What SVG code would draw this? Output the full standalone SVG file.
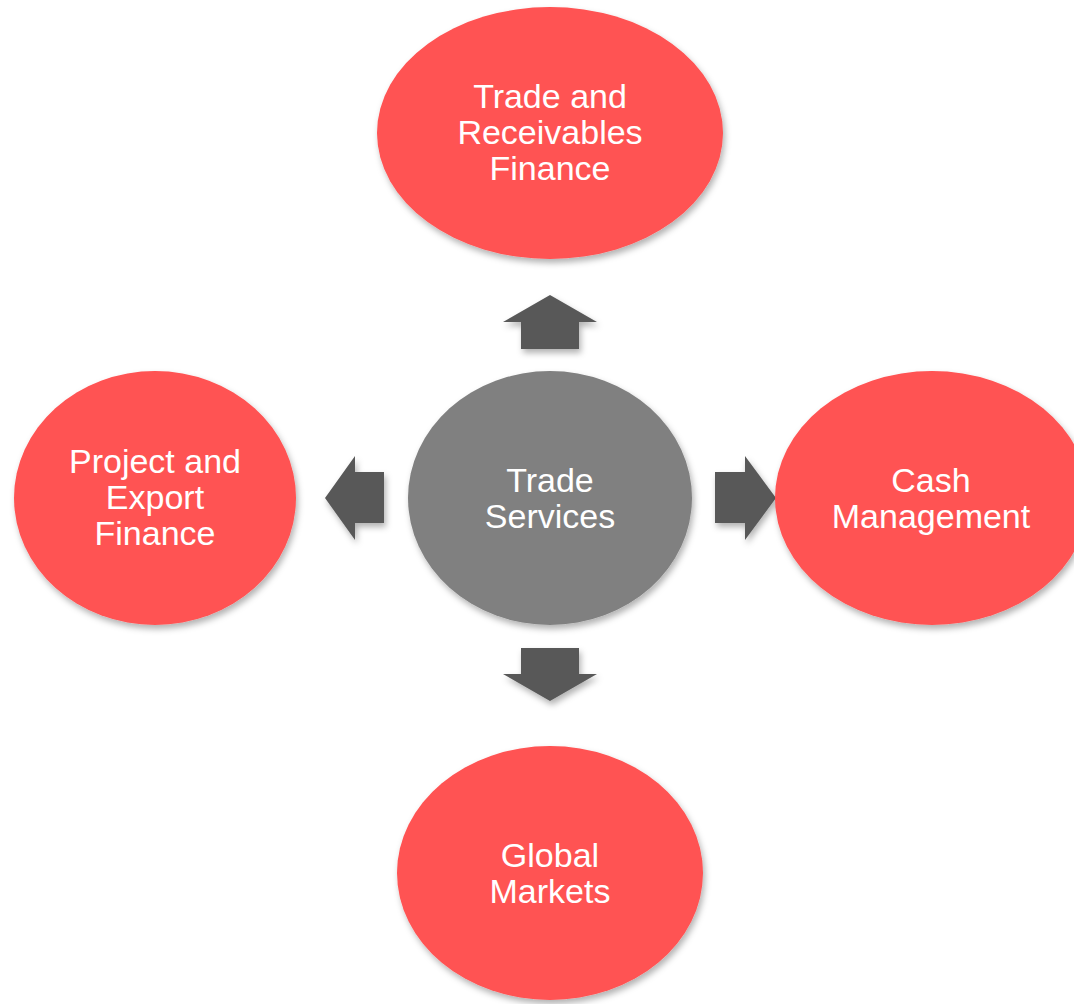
<svg xmlns="http://www.w3.org/2000/svg" width="1074" height="1004" viewBox="0 0 1074 1004">
<defs>
<filter id="sh" x="-20%" y="-20%" width="140%" height="140%">
<feDropShadow dx="2" dy="4" stdDeviation="3" flood-color="#000" flood-opacity="0.3"/>
</filter>
<style>
.red{fill:#FF5252;filter:url(#sh)}
.gray{fill:#808080;filter:url(#sh)}
.arr{fill:#595959;filter:url(#sh)}
.t{font-family:"Liberation Sans",Arial,sans-serif;font-size:34px;fill:#fff;text-anchor:middle}
</style>
</defs>
<rect width="1074" height="1004" fill="#fff"/>
<g id="connectors">
<polygon class="arr" points="550,295 597,322 579,322 579,349 521,349 521,322 503,322"/>
<polygon class="arr" points="550,701 597,674 579,674 579,648 521,648 521,674 503,674"/>
<polygon class="arr" points="325,498 355,456 355,472 384,472 384,523 355,523 355,540"/>
<polygon class="arr" points="776,498 745,456 745,472 715,472 715,523 745,523 745,540"/>
</g>
<g id="trade-receivables">
<ellipse class="red" cx="550" cy="133" rx="173" ry="126"/>
<text class="t" x="550" y="108">Trade and</text>
<text class="t" x="550" y="144">Receivables</text>
<text class="t" x="550" y="180">Finance</text>
</g>
<g id="project-export">
<ellipse class="red" cx="155" cy="498" rx="141" ry="127"/>
<text class="t" x="155" y="473">Project and</text>
<text class="t" x="155" y="509">Export</text>
<text class="t" x="155" y="545">Finance</text>
</g>
<g id="trade-services">
<ellipse class="gray" cx="550" cy="498" rx="142" ry="127"/>
<text class="t" x="550" y="492">Trade</text>
<text class="t" x="550" y="528">Services</text>
</g>
<g id="cash-management">
<ellipse class="red" cx="932" cy="498" rx="157" ry="127"/>
<text class="t" x="931" y="492">Cash</text>
<text class="t" x="931" y="528">Management</text>
</g>
<g id="global-markets">
<ellipse class="red" cx="550" cy="873" rx="153" ry="127"/>
<text class="t" x="550" y="867">Global</text>
<text class="t" x="550" y="903">Markets</text>
</g>
</svg>
